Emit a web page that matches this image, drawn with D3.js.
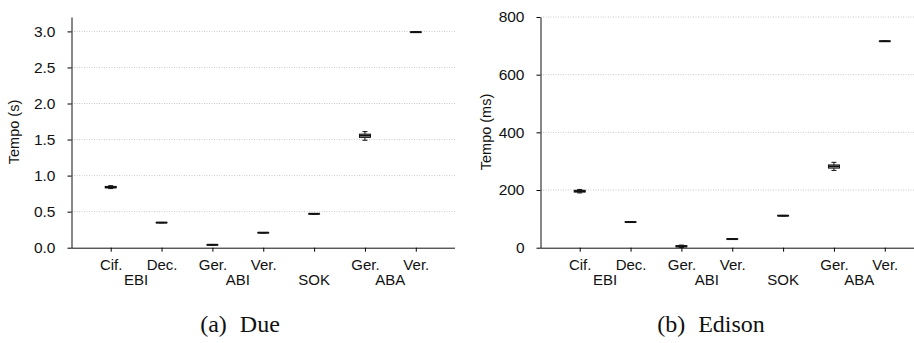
<!DOCTYPE html>
<html>
<head>
<meta charset="utf-8">
<script src="https://cdn.jsdelivr.net/npm/d3@7"></script>
<style>
  body { margin: 0; background: #fff; }
  text { font-family: "Liberation Sans", Arial, sans-serif; fill: #111; }
  .caption { font-family: "Liberation Serif", "Times New Roman", serif; }
</style>
</head>
<body>
<script>
// categories on the x axis (index-based because labels repeat)
const categories = ["Cif.", "Dec.", "Ger.", "Ver.", "", "Ger.", "Ver."];
// group labels under the tick labels: [label, first index, last index]
const groups = [["EBI", 0, 1], ["ABI", 2, 3], ["SOK", 4, 4], ["ABA", 5, 6]];

// box stats [min, q1, median, q3, max]
const dueSeconds = [
  [0.82, 0.83, 0.84, 0.85, 0.86],
  [0.345, 0.347, 0.348, 0.349, 0.35],
  [0.035, 0.038, 0.04, 0.042, 0.045],
  [0.205, 0.207, 0.208, 0.209, 0.21],
  [0.466, 0.468, 0.47, 0.471, 0.473],
  [1.49, 1.53, 1.555, 1.575, 1.61],
  [2.985, 2.988, 2.99, 2.992, 2.995]
];
const edisonMs = [
  [190, 193, 196, 199, 202],
  [88, 88.5, 89, 89.5, 90],
  [1, 3, 5, 7, 9],
  [29, 29.5, 30, 30.5, 31],
  [110, 110.5, 111, 111.5, 112],
  [268, 276, 282, 287, 296],
  [715, 715.5, 716, 716.5, 717]
];

const dueTicks = [0, 0.5, 1.0, 1.5, 2.0, 2.5, 3.0];
const edisonTicks = [0, 200, 400, 600, 800];

const W = 914, H = 343;
const svg = d3.select("body").append("svg").attr("width", W).attr("height", H);

function panel(cfg) {
  const g = svg.append("g");
  const x = d3.scalePoint().domain(d3.range(categories.length))
    .range([cfg.left, cfg.left + 383.5]).padding(0.771);
  const y = d3.scaleLinear().domain(cfg.domain).range([247.7, 17]);

  // dotted grid
  g.selectAll(".grid").data(cfg.ticks.filter(t => t > 0)).join("line")
    .attr("x1", cfg.left).attr("x2", cfg.gridRight)
    .attr("y1", d => y(d)).attr("y2", d => y(d))
    .attr("stroke", "#bbb").attr("stroke-width", 0.8).attr("stroke-dasharray", "1,1.5");

  // y axis
  const ya = g.append("g").attr("transform", `translate(${cfg.left},0)`)
    .call(d3.axisLeft(y).tickValues(cfg.ticks).tickFormat(cfg.fmt).tickSize(4).tickPadding(12).tickSizeOuter(0));
  ya.select(".domain").attr("stroke", "#111");
  ya.selectAll("text").style("font-size", "15.5px").attr("fill", "#111");

  // x axis
  const xa = g.append("g").attr("transform", "translate(0,247.7)")
    .call(d3.axisBottom(x).tickFormat(i => categories[i]).tickSize(4).tickPadding(8).tickSizeOuter(0));
  xa.select(".domain").attr("d", `M${cfg.left},0.5H${cfg.gridRight}`).attr("stroke", "#111");
  xa.selectAll("text").style("font-size", "15px").attr("fill", "#111");

  g.selectAll(".grp").data(groups).join("text")
    .attr("x", d => (x(d[1]) + x(d[2])) / 2).attr("y", 285)
    .attr("text-anchor", "middle").style("font-size", "15px").text(d => d[0]);

  g.append("text")
    .attr("transform", `translate(${cfg.labelX},132) rotate(-90)`)
    .attr("text-anchor", "middle").style("font-size", "14.5px").text(cfg.ylabel);

  // boxes
  const b = g.selectAll(".box").data(cfg.values).join("g")
    .attr("transform", (d, i) => `translate(${x(i)},0)`);
  b.append("line").attr("y1", d => y(d[0])).attr("y2", d => y(d[4]))
    .attr("stroke", "#111").attr("stroke-width", 1);
  b.append("line").attr("x1", -2.5).attr("x2", 2.5).attr("y1", d => y(d[0])).attr("y2", d => y(d[0]))
    .attr("stroke", "#111").attr("stroke-width", 1);
  b.append("line").attr("x1", -2.5).attr("x2", 2.5).attr("y1", d => y(d[4])).attr("y2", d => y(d[4]))
    .attr("stroke", "#111").attr("stroke-width", 1);
  b.append("rect").attr("x", -5.5).attr("width", 11)
    .attr("y", d => y(d[3])).attr("height", d => y(d[1]) - y(d[3]))
    .attr("fill", "#fff").attr("stroke", "#111").attr("stroke-width", 1);
  b.append("line").attr("x1", -5.5).attr("x2", 5.5).attr("y1", d => y(d[2])).attr("y2", d => y(d[2]))
    .attr("stroke", "#111").attr("stroke-width", 2);

  const cap = svg.append("text").attr("class", "caption")
    .attr("x", cfg.capX).attr("y", 332).attr("text-anchor", "middle")
    .style("font-size", "24px");
  cap.append("tspan").text(cfg.caption[0]);
  cap.append("tspan").attr("dx", 13).text(cfg.caption[1]);
}

panel({ left: 71.5, gridRight: 455, domain: [0, 3.2], ticks: dueTicks, fmt: d3.format(".1f"),
        values: dueSeconds, ylabel: "Tempo (s)", labelX: 19, caption: ["(a)", "Due"], capX: 240 });
panel({ left: 540.5, gridRight: 914, domain: [0, 800], ticks: edisonTicks, fmt: d3.format("d"),
        values: edisonMs, ylabel: "Tempo (ms)", labelX: 491, caption: ["(b)", "Edison"], capX: 711 });
</script>
</body>
</html>
